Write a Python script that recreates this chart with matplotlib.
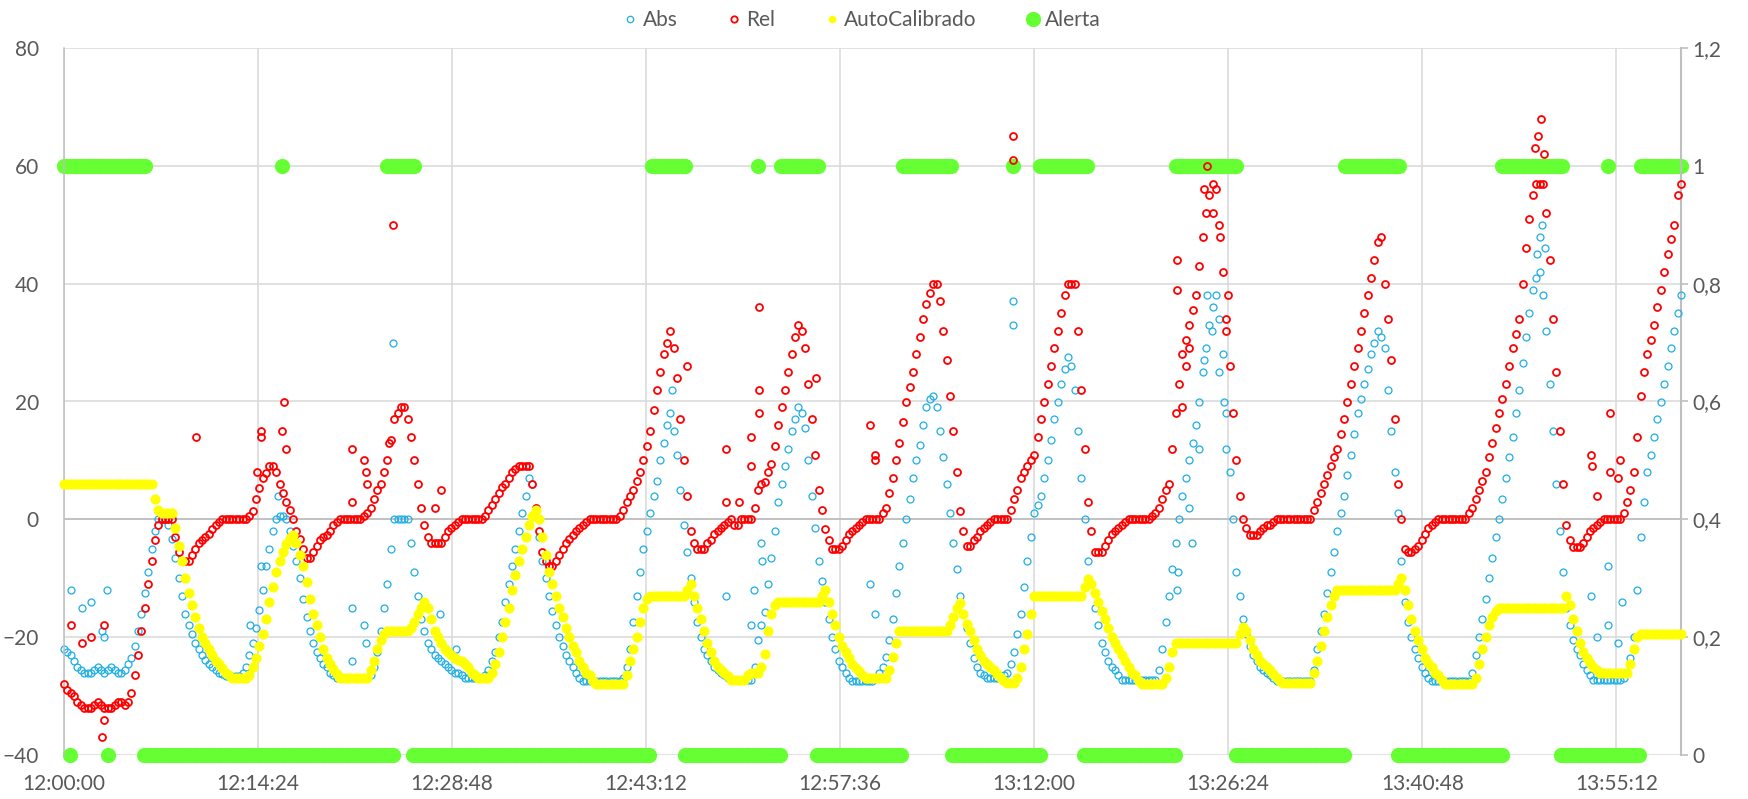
import numpy as np
import matplotlib
matplotlib.use("Agg")
import matplotlib.pyplot as plt
from matplotlib.lines import Line2D

plt.rcParams['font.family'] = ['Lato', 'DejaVu Sans']

# one reading every 15 s from 12:00:00
step_min = 0.25

abs_vals = [
    -22, -22.5, -23, -24, -25, -25.5, -26, -26, -26, -25.5, -25, -25.5, -26, -25.5, -25, -25.5, -26, -26, -25.5, -24.5,
    -23.5, -21.5, -19, -16, -12.5, -9, -5, -2, 0, 0, 0, -1, -3.4, -6.5, -10, -13, -16, -18, -19.5, -21,
    -22, -23, -23.8, -24.5, -25, -25.5, -26, -26.3, -26.6, -26.6, -26.6, -26.6, -26.6, -26, -25, -23, -21, -18.5, -15.4, -12,
    -8, -5, -2, 0, 0.5, 0.5, 0, -2, -4.5, -7, -10, -13.5, -16.5, -19, -21, -22.5, -23.5, -24.5, -25, -26,
    -26.5, -27, -27, -27, -27, -27, -27, -27, -27, -27, -27, -26.5, -25, -22.5, -19, -15, -11, -5, 0, 0,
    0, 0, 0, -4, -9, -13, -17, -19, -21, -22, -23, -23.5, -24, -24.5, -25, -25.5, -26, -26, -26.5, -27,
    -27, -27, -27, -27, -27, -26.5, -25.5, -24, -22.5, -20, -17.5, -14, -11, -8, -5, -2, 1, 4, 7, 6,
    2, -3, -7, -10, -13, -15.5, -18, -20, -21.5, -23, -24, -25, -26, -27, -27.4, -27.4, -27.4, -27.4, -27.4, -27.4,
    -27.4, -27.4, -27.4, -27.4, -27.4, -27.4, -27, -25, -22, -17.5, -13, -9, -5, -2, 1, 4, 6.5, 10, 13, 16,
    18, 15, 11, 5, -1, -5.5, -10, -14, -17.5, -20, -22, -23, -24, -25, -25.5, -26, -26.5, -27, -27.2, -27.2,
    -27.2, -27.2, -27.2, -27.2, -27.2, -25, -20.5, -18, -15.7, -11, -6.5, -2, 3, 6, 9, 12, 15, 17, 19, 18,
    15.5, 10, 4, -1.5, -7, -10.5, -14, -17, -20, -22, -24, -25, -26, -27, -27.4, -27.4, -27.4, -27.4, -27.4, -27.4,
    -27.4, -27, -26, -25, -23.4, -20.5, -17, -12.5, -8, -4, 0, 3.5, 7, 10, 12.6, 16, 19, 20.5, 21, 19,
    15, 10.5, 6, 1, -4, -8.5, -13, -16, -18.5, -21, -23.5, -25, -26, -26.5, -27, -27, -27, -27, -27, -26.5,
    -26, -24.5, -22.5, -19.5, -16, -11.5, -7, -3, 1, 2.5, 4, 7, 10, 13.5, 17, 20, 23, 25.5, 27.6, 26,
    22, 15, 7, 0, -7, -11, -15, -18, -21, -22.5, -24, -25, -25.5, -26.5, -27.2, -27.2, -27.2, -27.2, -27.2, -27.2,
    -27.2, -27.2, -27.2, -27.2, -27.2, -25.5, -22, -17.5, -13, -8.5, -4, 0, 4, 7, 10, 13, 16, 20, 25, 29,
    33, 36, 38, 34, 28, 18, 8, 0, -9, -13, -17, -19.5, -21.5, -23, -24, -25, -25.5, -26, -26.5, -27,
    -27.4, -27.4, -27.4, -27.4, -27.4, -27.4, -27.4, -27.4, -27.4, -27.4, -27.4, -25.5, -22, -19, -16, -12.5, -9, -5.5, -2, 1,
    4, 7.5, 11, 14.5, 18, 20.5, 23, 25.5, 28, 30, 32, 31, 29, 22, 15, 8, 1, -7, -14, -17.5,
    -20, -22, -23.5, -25, -26, -27, -27.5, -27.5, -27.5, -27.5, -27.5, -27.5, -27.5, -27.5, -27.5, -27.5, -27.5, -27.5, -26, -23,
    -20, -17, -13.5, -10, -6.5, -3, 0, 3.5, 7, 10.5, 14, 18, 22, 26.5, 31, 35, 39, 41, 42, 38,
    32, 23, 15, 6, -2, -9, -15, -18, -20.5, -22, -23, -24.5, -25.5, -26.5, -27.2, -27.2, -27.2, -27.2, -27.2, -27.2,
    -27.2, -27.2, -27.2, -27, -26, -23.5, -20, -12, -3, 3, 8, 11, 14, 17, 20, 23, 26, 29, 32, 35,
    38,
]

rel_vals = [
    -28, -29, -29.5, -30, -31, -31.5, -32, -32, -32, -31.5, -31, -31.5, -32, -32, -32, -31.5, -31, -31, -31.5, -31,
    -29.5, -26.5, -23, -19, -15, -11, -7, -3.5, -1, 0, 0, 0, 0, -3, -5.5, -7, -7, -7, -6, -5,
    -4, -3.5, -3, -2.5, -1.6, -1, -0.5, 0, 0, 0, 0, 0, 0, 0, 0, 0.5, 1.4, 3.5, 5.4, 7,
    7.8, 9, 9, 8, 6, 4.5, 3, 1.5, 0, -2, -3.4, -5, -6.6, -6.6, -5.5, -4.5, -3.5, -3, -2.6, -2,
    -1, -0.5, 0, 0, 0, 0, 0, 0, 0, 0.5, 1, 2, 3.5, 5, 6, 8, 10, 13.5, 17, 18,
    19, 19, 17, 14, 10, 6, 2, -1, -3, -4, -4, -4, -4, -3, -2, -1.5, -1, -0.5, 0, 0,
    0, 0, 0, 0, 0, 0.5, 1.5, 2.5, 3.5, 4.5, 5.5, 6, 7, 8, 8.5, 9, 9, 9, 9, 6,
    2, -2, -5.5, -7, -8, -8, -7, -6, -5, -4, -3.4, -2.6, -2, -1.5, -1, -0.5, 0, 0, 0, 0,
    0, 0, 0, 0, 0, 0.5, 1.5, 3, 4, 5, 6.5, 8, 10, 12.5, 15, 18.5, 22, 25, 28, 30,
    32, 29, 24, 17, 10, 4, -2, -4, -5, -5, -5, -4, -3.5, -2.5, -2, -1.5, -1, -0.5, 0, -1,
    -1, 0, 0, 0, 0, 2, 5, 6, 6.3, 8, 9.4, 12.5, 16, 19, 22, 25, 28, 31, 33, 32,
    29, 23, 17, 11, 5, 1.5, -1.6, -3.5, -5, -5, -5, -4.5, -3.5, -2.5, -2, -1.5, -1, -0.5, 0, 0,
    0, 0, 0, 1, 2, 4.5, 7, 10, 13, 16.5, 20, 22.5, 25, 28, 31, 34, 36.6, 38.5, 40, 40,
    37, 32, 27, 21, 15, 8, 1.4, -2, -4.5, -4.5, -3.5, -3, -2, -1.5, -1, -0.5, 0, 0, 0, 0,
    0, 1.5, 3.5, 5, 7, 8, 9, 10, 11, 14, 17, 20, 23, 26, 29, 32, 35, 38, 40, 40,
    40, 32, 22, 12, 3, -2, -5.5, -5.5, -5.5, -4.5, -3.5, -2.5, -2, -1.5, -1, -0.5, 0, 0, 0, 0,
    0, 0, 0, 0.5, 1, 2, 3.5, 5, 6, 12, 18, 23, 28, 30.5, 33, 35.5, 38, 43, 48, 52,
    55, 57, 56, 50, 42, 34, 26, 18, 10, 4, 0, -1.5, -2.6, -2.6, -2.6, -2, -1.5, -1, -1, -0.5,
    0, 0, 0, 0, 0, 0, 0, 0, 0, 0, 0, 1.5, 3, 4.5, 6, 7.5, 9, 10.5, 12, 14.5,
    17, 20, 23, 26, 29, 32, 35, 38, 41, 44, 47, 48, 40, 34, 27, 17, 6, 0, -5, -5.5,
    -5.5, -5, -4.5, -3.5, -2.5, -1.5, -1, -0.5, 0, 0, 0, 0, 0, 0, 0, 0, 0, 1, 2, 3.5,
    5, 6.5, 8, 10.5, 13, 15.5, 18, 20.5, 23, 26, 29, 31.5, 34, 40, 46, 51, 55, 57, 57, 57,
    52, 44, 34, 25, 15, 6, -1, -3.5, -4.7, -4.7, -4.7, -4, -3, -2, -1.5, -1, -0.5, 0, 0, 0,
    0, 0, 0, 1, 3, 5, 8, 14, 21, 25, 28, 30.5, 33, 36, 39, 42, 45, 47.5, 50, 55,
    57,
]

auto_vals = [
    6, 6, 6, 6, 6, 6, 6, 6, 6, 6, 6, 6, 6, 6, 6, 6, 6, 6, 6, 6,
    6, 6, 6, 6, 6, 6, 6, 3.5, 1.5, 1, 1, 1, 1, -1.5, -4.5, -7, -10, -12.5, -14.5, -16.5,
    -18.5, -20, -21, -22, -23, -24, -24.5, -25.3, -26, -26.5, -27, -27, -27, -27, -27, -26.5, -25, -23.5, -21.5, -19.5,
    -17, -14, -11.5, -9, -7, -5.5, -4.2, -3.2, -2.6, -4, -6, -8, -10.6, -13.5, -16, -18, -20, -22, -23.5, -24.5,
    -25.4, -26.3, -27, -27, -27, -27, -27, -27, -27, -27, -27, -25.5, -24, -22, -20.5, -19.5, -19, -19, -19, -19,
    -19, -19, -19, -18.5, -17.5, -16, -15, -14, -15, -17, -19, -20, -21, -22, -22.5, -23, -23.5, -23.8, -24, -24.5,
    -25, -26, -26.5, -27, -27, -27, -27, -26, -24.5, -22.5, -20, -17.5, -15, -12, -9.5, -7, -5, -3, -1, 0.5,
    1.5, 0, -3, -6, -9, -11, -13, -15, -16.5, -18.5, -20, -21.5, -22.6, -24, -25, -26, -26.5, -27.5, -28, -28,
    -28, -28, -28, -28, -28, -28, -28, -26.5, -24, -22, -20, -17.5, -15, -13.5, -13, -13, -13, -13, -13, -13,
    -13, -13, -13, -13, -13, -12, -11, -13, -15, -17, -19, -21, -22.5, -24, -25, -25.5, -26, -26.6, -27.2, -27.2,
    -27.2, -27.2, -27.2, -26.5, -26, -26, -26, -25, -22.8, -19, -16, -14.5, -14, -14, -14, -14, -14, -14, -14, -14,
    -14, -14, -14, -14, -14, -13, -12, -14, -16, -18, -20, -21.5, -22.5, -23.5, -24.5, -25.2, -25.8, -26.5, -27, -27,
    -27, -27, -27, -27, -27, -25.5, -23.4, -21, -19, -19, -19, -19, -19, -19, -19, -19, -19, -19, -19, -19,
    -19, -19, -19, -18, -16.5, -15, -14.2, -16, -17.8, -19, -20.5, -22, -23, -24, -24.6, -25, -25.5, -26.3, -27, -27.5,
    -27.8, -27.8, -27.8, -27, -25, -22, -19.5, -16, -13, -13, -13, -13, -13, -13, -13, -13, -13, -13, -13, -13,
    -13, -13, -13, -11.5, -10.2, -11, -12.5, -14, -15.5, -17, -18.5, -20, -21, -22, -23, -24, -25, -26, -26.5, -27.5,
    -28, -28, -28, -28, -28, -28, -28, -27, -25, -22.5, -21, -21, -21, -21, -21, -21, -21, -21, -21, -21,
    -21, -21, -21, -21, -21, -21, -21, -21, -21, -19.5, -18.2, -19, -20.5, -22, -23, -24, -24.5, -25, -25.5, -26.3,
    -27, -27.5, -27.8, -27.8, -27.8, -27.8, -27.8, -27.8, -27.8, -27.8, -27.8, -26, -24, -21.5, -19, -16.5, -14.5, -13, -12, -12,
    -12, -12, -12, -12, -12, -12, -12, -12, -12, -12, -12, -12, -12, -12, -12, -12, -11, -10, -12, -14.5,
    -17, -19, -20.5, -22, -23.5, -24.3, -25, -26, -26.5, -27.3, -28, -28, -28, -28, -28, -28, -28, -28, -28, -27,
    -24.5, -22, -20, -18, -16.5, -15.5, -15, -15, -15, -15, -15, -15, -15, -15, -15, -15, -15, -15, -15, -15,
    -15, -15, -15, -15, -15, -15, -13, -14.5, -17, -19, -21, -22.5, -23.5, -24.3, -25, -25.5, -26, -26, -26, -26,
    -26, -26, -26, -26, -26, -24.5, -22, -20, -19.5, -19.5, -19.5, -19.5, -19.5, -19.5, -19.5, -19.5, -19.5, -19.5, -19.5, -19.5,
    -19.5,
]

# stray readings (minute, value)
abs_extra_t = [0.5, 1.3, 2.0, 3.2, 2.8, 3.0, 13.8, 14.6, 15.9, 21.4, 21.4, 22.3, 22.4,
               24.4, 27.9, 29.1, 45.1, 49.1, 51.0, 51.2, 51.7, 51.8, 59.8, 60.2,
               70.4, 70.4, 82.6, 82.7, 83.5, 83.7, 84.2, 84.6, 84.8, 85.2, 85.7, 86.1,
               86.2, 109.3, 109.5, 109.7, 109.9, 113.3, 113.8, 114.6, 114.6, 115.3, 115.6]
abs_extra_v = [-12, -15, -14, -12, -19, -20, -18, -8, 4, -15, -24, -18, -21,
               30, -16, -22, 22, -13, -18, -12, -4, -7, -11, -16,
               37, 33, -12, -9, 2, -4, 12, 27, 38, 32, 25, 20,
               12, 45, 48, 50, 46, -13, -20, -18, -8, -21, -14]

rel_extra_t = [0.5, 1.3, 2.0, 3.0, 3.0, 2.8, 9.8, 14.3, 14.6, 14.6, 16.2, 16.3, 16.5,
               21.4, 21.4, 22.3, 22.4, 22.5, 24.1, 24.4, 27.5, 28.0, 46.2, 49.1, 49.1,
               50.1, 51.0, 51.0, 51.6, 51.6, 51.6, 55.8, 59.8, 60.2, 60.2, 70.4, 70.4,
               82.6, 82.6, 83.0, 83.3, 83.5, 84.6, 84.8, 85.3, 85.8, 86.2, 86.4,
               109.2, 109.4, 109.6, 109.8,
               113.3, 113.4, 113.8, 114.7, 114.7, 115.3, 115.5]
rel_extra_v = [-18, -21, -20, -18, -34, -37, 14, 8, 14, 15, 15, 20, 12,
               12, 3, 10, 8, 6, 13, 50, 2, 5, 26, 12, 3,
               3, 14, 9, 36, 22, 18, 24, 16, 10, 11, 65, 61,
               44, 39, 19, 26, 29, 56, 60, 52, 48, 32, 38,
               63, 65, 68, 62,
               11, 9, 4, 18, 8, 7, 10]

# Alerta runs (start minute, end minute)
alert_on = [(0, 6), (16.2, 16.2), (24, 26), (43.6, 46.3), (51.5, 51.5), (53.2, 56.1),
            (62.3, 66.0), (70.4, 70.4), (72.4, 75.9), (82.5, 87.1), (95.1, 99.1),
            (106.7, 111.2), (114.6, 114.6), (117, 120)]
alert_off = [(0.45, 0.45), (3.3, 3.3), (5.9, 24.4), (25.9, 43.6), (46.1, 53.2),
             (55.9, 62.3), (65.9, 72.5), (75.7, 82.6), (87.0, 95.2), (99.0, 106.9),
             (111.1, 116.9)]

tick_min = [0, 14.4, 28.8, 43.2, 57.6, 72, 86.4, 100.8, 115.2]

assert len(abs_vals) == len(rel_vals) == len(auto_vals) == 481


def expand(runs):
    ts = []
    for a, b in runs:
        ts.extend(np.arange(a, b + 0.01, step_min))
    return np.array(ts)


def hms(m):
    s = int(round(m * 60)) + 12 * 3600
    return "%02d:%02d:%02d" % (s // 3600, (s % 3600) // 60, s % 60)


t = np.arange(len(abs_vals)) * step_min
grey = '#595959'

fig = plt.figure(figsize=(17.49, 7.99), dpi=100)
pos = [64 / 1749, 44 / 799, 1617 / 1749, 707 / 799]
ax2 = fig.add_axes(pos)
ax = fig.add_axes(pos, sharex=ax2)
ax.patch.set_visible(False)

# back axes: grid, Alerta, right scale
ax2.set_ylim(0, 1.2)
ax2.set_yticks(np.arange(0, 1.21, 0.2))
ax2.set_yticklabels([("%g" % v).replace('.', ',') for v in np.round(np.arange(0, 1.21, 0.2), 1)])
ax2.yaxis.tick_right()
ax2.grid(True, color='#D9D9D9', lw=1.1)
ax2.tick_params(axis='x', length=0, labelbottom=False)
ax2.tick_params(axis='y', colors='#BFBFBF', labelcolor=grey, labelsize=15, length=5, width=1.2, pad=3)
for s in ['top', 'bottom', 'left']:
    ax2.spines[s].set_visible(False)
ax2.spines['right'].set_color('#BFBFBF')
ax2.spines['right'].set_linewidth(1.5)

t_on = expand(alert_on)
t_off = expand(alert_off)
ax2.plot(t_on, np.ones(len(t_on)), 'o', color='#66FF33', ms=11, mec='none', clip_on=False)
ax2.plot(t_off, np.zeros(len(t_off)), 'o', color='#66FF33', ms=11, mec='none', clip_on=False)

# front axes
ax.set_xlim(0, 120)
ax.set_ylim(-40, 80)
ax.set_yticks(range(-40, 81, 20))
ax.set_xticks(tick_min)
ax.set_xticklabels([hms(m) for m in tick_min])
ax.tick_params(axis='both', length=0, labelsize=15, labelcolor=grey)
ax.tick_params(axis='y', pad=18)
ax.tick_params(axis='x', pad=14)
for s in ['top', 'bottom', 'right']:
    ax.spines[s].set_visible(False)
ax.spines['left'].set_color('#BFBFBF')
ax.spines['left'].set_linewidth(1.1)
ax.axhline(0, color='#BFBFBF', lw=1.3, zorder=0.5)

cyan = '#1DAEE5'
ax.plot(t, abs_vals, 'o', ms=5, mfc='none', mec=cyan, mew=0.9, clip_on=False, zorder=2)
ax.plot(abs_extra_t, abs_extra_v, 'o', ms=5, mfc='none', mec=cyan, mew=0.9, zorder=2)
ax.plot(t, rel_vals, 'o', ms=5, mfc='none', mec='#FF0000', mew=1.3, clip_on=False, zorder=3)
ax.plot(rel_extra_t, rel_extra_v, 'o', ms=5, mfc='none', mec='#FF0000', mew=1.3, zorder=3)
ax.plot(t, auto_vals, 'o', ms=7.3, color='#FFFF00', mec='none', clip_on=False, zorder=4)

handles = [
    Line2D([], [], ls='none', marker='o', ms=4.6, mfc='none', mec=cyan, mew=0.9),
    Line2D([], [], ls='none', marker='o', ms=4.6, mfc='none', mec='#FF0000', mew=1.3),
    Line2D([], [], ls='none', marker='o', ms=5.5, color='#FFFF00', mec='none'),
    Line2D([], [], ls='none', marker='o', ms=11, color='#66FF33', mec='none'),
]
fig.legend(handles, ['Abs', 'Rel', 'AutoCalibrado', 'Alerta'], loc='center',
           bbox_to_anchor=(0.492, 1 - 20 / 799), ncol=4, frameon=False,
           fontsize=15, labelcolor=grey, handletextpad=0.1, columnspacing=2.2,
           handlelength=1.0)

fig.savefig('out.png', dpi=100)
